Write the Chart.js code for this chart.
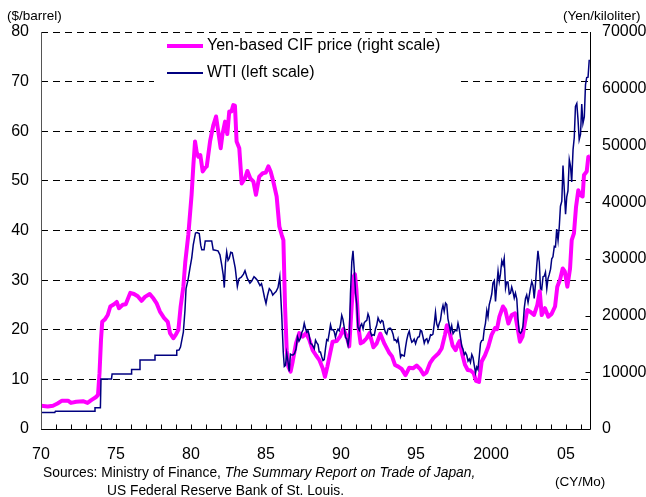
<!DOCTYPE html>
<html>
<head>
<meta charset="utf-8">
<script src="https://cdn.jsdelivr.net/npm/chart.js@4/dist/chart.umd.min.js"></script>
<style>
  html, body { margin: 0; padding: 0; background: #fff; }
  canvas { display: block; }
</style>
</head>
<body>
<canvas id="oil" width="646" height="497"></canvas>
<script>
// WTI, $/barrel (left scale)
var wtiYears = [1970.00,1970.92,1970.96,1973.55,1973.60,1973.96,1974.00,1974.70,1974.74,1976.00,1976.04,1976.55,1976.60,1977.55,1977.60,1979.00,1979.05,1979.20,1979.30,1979.49,1979.60,1979.67,1979.80,1979.93,
  1980.05,1980.15,1980.30,1980.40,1980.55,1980.65,1980.72,1980.87,1980.95,1981.38,1981.48,1981.80,1981.93,1982.05,1982.15,1982.22,1982.30,1982.38,1982.47,1982.55,1982.65,1982.75,1982.85,1982.95,
  1983.09,1983.20,1983.35,1983.50,1983.60,1983.75,1983.93,1984.05,1984.20,1984.30,1984.42,1984.50,1984.60,1984.70,1984.78,1984.90,1985.00,1985.10,1985.22,1985.35,1985.45,1985.57,1985.67,1985.80,1985.92,
  1986.05,1986.15,1986.22,1986.30,1986.38,1986.47,1986.55,1986.63,1986.72,1986.80,1986.90,1987.00,1987.10,1987.20,1987.30,1987.38,1987.47,1987.55,1987.63,1987.72,1987.80,1987.88,1987.97,
  1988.05,1988.13,1988.22,1988.30,1988.38,1988.47,1988.55,1988.63,1988.72,1988.80,1988.88,1988.97,1989.05,1989.13,1989.22,1989.30,1989.38,1989.47,1989.55,1989.63,1989.72,1989.80,1989.88,1989.97,
  1990.05,1990.13,1990.22,1990.30,1990.38,1990.47,1990.55,1990.63,1990.72,1990.80,1990.88,1990.97,1991.05,1991.13,1991.22,1991.30,1991.38,1991.47,1991.55,1991.63,1991.72,1991.80,1991.88,1991.97,
  1992.05,1992.13,1992.22,1992.30,1992.38,1992.47,1992.55,1992.63,1992.72,1992.80,1992.88,1992.97,1993.05,1993.13,1993.22,1993.30,1993.38,1993.47,1993.55,1993.63,1993.72,1993.80,1993.88,1993.97,
  1994.05,1994.13,1994.22,1994.30,1994.38,1994.47,1994.55,1994.63,1994.72,1994.80,1994.88,1994.97,1995.05,1995.13,1995.22,1995.30,1995.38,1995.47,1995.55,1995.63,1995.72,1995.80,1995.88,1995.97,
  1996.05,1996.13,1996.22,1996.30,1996.38,1996.47,1996.55,1996.63,1996.72,1996.80,1996.88,1996.97,1997.05,1997.13,1997.22,1997.30,1997.38,1997.47,1997.55,1997.63,1997.72,1997.80,1997.88,1997.97,
  1998.05,1998.13,1998.22,1998.30,1998.38,1998.47,1998.55,1998.63,1998.72,1998.80,1998.88,1998.97,1999.05,1999.13,1999.22,1999.30,1999.38,1999.47,1999.55,1999.63,1999.72,1999.80,1999.88,1999.97,
  2000.05,2000.13,2000.22,2000.30,2000.38,2000.47,2000.55,2000.63,2000.72,2000.80,2000.88,2000.97,2001.05,2001.13,2001.22,2001.30,2001.38,2001.47,2001.55,2001.63,2001.72,2001.80,2001.88,2001.97,
  2002.05,2002.13,2002.22,2002.30,2002.38,2002.47,2002.55,2002.63,2002.72,2002.80,2002.88,2002.97,2003.05,2003.13,2003.22,2003.30,2003.38,2003.47,2003.55,2003.63,2003.72,2003.80,2003.88,2003.97,
  2004.05,2004.13,2004.22,2004.30,2004.38,2004.47,2004.55,2004.63,2004.72,2004.80,2004.88,2004.97,2005.05,2005.13,2005.22,2005.30,2005.38,2005.47,2005.55,2005.63,2005.72,2005.80,2005.88,2005.97,
  2006.05,2006.13,2006.22,2006.30,2006.38,2006.47,2006.55]
var wtiValues = [3.35,3.35,3.56,3.56,4.3,4.3,10.1,10.1,11.1,11.1,12.0,12.0,13.9,13.9,14.85,14.85,15.85,15.9,16.5,19.5,24.0,28.3,30.0,32.4,
  34.5,37.1,39.5,39.6,39.4,37.0,36.1,36.1,37.9,37.9,36.1,35.9,35.1,33.0,31.0,28.5,33.5,35.7,34.0,34.4,35.6,35.5,34.0,32.4,
  28.7,30.3,30.6,31.2,31.9,30.4,29.4,29.8,30.7,30.4,30.0,29.5,28.9,29.3,28.3,26.5,25.3,26.9,28.3,27.8,27.0,27.4,27.7,28.5,30.7,
  22.9,15.5,12.6,12.8,15.3,13.5,11.6,15.1,14.9,14.9,15.2,16.1,18.6,17.7,18.3,19.4,20.0,21.3,20.3,19.5,19.8,18.9,17.2,
  17.1,16.7,16.2,17.9,17.4,17.0,15.5,15.5,14.5,13.8,14.0,16.3,18.0,17.8,19.4,21.0,20.0,20.0,19.6,18.5,19.6,20.1,19.8,21.1,
  22.9,22.1,20.4,18.4,18.2,16.9,18.6,27.2,33.7,35.9,32.3,27.3,25.2,20.5,19.9,20.8,21.2,20.2,21.4,21.7,21.9,23.2,22.5,19.5,
  18.8,19.0,18.9,20.2,20.9,22.4,21.8,21.4,21.9,21.7,20.3,19.4,19.1,20.1,20.3,20.3,19.9,19.1,17.9,18.0,17.5,18.2,16.7,14.5,
  15.0,14.8,14.7,16.4,17.9,19.1,19.7,18.4,17.5,17.7,18.1,17.2,18.0,18.5,18.6,19.9,19.7,18.5,17.3,18.0,18.2,17.4,18.0,19.0,
  18.9,19.1,21.3,23.5,21.2,20.4,21.3,21.9,23.9,24.9,23.7,25.4,25.1,22.2,20.9,19.7,20.8,19.2,19.6,19.9,19.8,21.3,20.2,18.3,
  16.7,16.1,15.0,15.4,14.9,13.7,14.1,13.4,15.0,14.4,12.9,11.3,12.5,12.0,14.7,17.3,17.8,17.9,20.1,21.3,23.9,22.6,25.0,26.1,
  27.2,29.4,29.9,25.7,28.8,31.8,29.7,31.2,33.9,33.1,34.4,28.4,29.6,29.6,27.2,27.4,28.6,27.6,26.4,27.4,26.2,22.2,19.6,19.3,
  19.7,20.7,24.4,26.3,27.0,25.5,26.9,28.4,29.7,28.9,26.3,29.4,32.9,35.9,33.6,28.3,28.1,30.7,30.8,31.6,28.3,30.3,31.1,32.2,
  34.3,34.7,36.8,36.7,40.3,38.0,40.7,44.9,45.9,53.1,48.5,43.3,46.8,48.0,54.3,53.0,49.8,56.3,58.7,65.0,65.6,62.4,58.3,59.4,
  65.5,61.6,62.9,69.4,70.8,70.9,74.4]

// Yen-based CIF price, yen/kiloliter (right scale)
var cifYears = [1970.00,1970.45,1970.80,1971.10,1971.40,1971.80,1972.00,1972.35,1972.80,1973.10,1973.35,1973.65,1973.80,1973.90,1974.00,1974.08,1974.25,1974.45,1974.62,1974.87,
  1975.05,1975.20,1975.45,1975.65,1975.95,1976.20,1976.45,1976.70,1976.93,1977.25,1977.50,1977.70,1977.93,1978.20,1978.45,1978.60,1978.82,1978.98,1979.16,1979.31,1979.49,1979.62,1979.82,
  1980.04,1980.16,1980.27,1980.38,1980.49,1980.62,1980.78,1980.93,1981.05,1981.27,1981.49,1981.67,1981.82,1981.98,1982.10,1982.27,1982.42,1982.55,1982.70,1982.82,1982.93,
  1983.04,1983.22,1983.38,1983.60,1983.76,1983.95,1984.16,1984.33,1984.55,1984.78,1984.98,1985.16,1985.31,1985.49,1985.71,1985.89,1986.05,1986.16,1986.27,1986.38,1986.49,1986.64,1986.78,
  1987.00,1987.22,1987.45,1987.67,1987.89,1988.11,1988.33,1988.55,1988.78,1988.93,1989.09,1989.27,1989.44,1989.71,1989.93,1990.16,1990.38,1990.55,1990.71,1990.85,1990.93,
  1991.03,1991.16,1991.31,1991.50,1991.71,1991.90,1992.16,1992.38,1992.62,1992.90,1993.20,1993.40,1993.60,1993.82,1994.04,1994.30,1994.55,1994.80,1995.04,1995.30,1995.50,1995.70,1995.93,
  1996.16,1996.49,1996.71,1996.93,1997.06,1997.25,1997.44,1997.64,1997.80,1997.90,1998.10,1998.27,1998.45,1998.65,1998.85,1999.00,1999.20,1999.38,1999.60,1999.82,
  2000.04,2000.27,2000.40,2000.56,2000.80,2000.95,2001.16,2001.38,2001.60,2001.76,2001.93,2002.10,2002.27,2002.42,2002.60,2002.87,2003.09,2003.25,2003.38,2003.60,2003.82,
  2004.04,2004.27,2004.42,2004.60,2004.78,2004.92,2005.09,2005.27,2005.38,2005.53,2005.67,2005.82,2005.93,2006.11,2006.20,2006.38,2006.49,2006.60]
var cifValues = [4100,3950,4100,4500,5000,5000,4600,4800,4900,4600,5100,5600,6000,9800,15700,18900,19300,20100,21600,22000,
  22400,21300,21900,22000,24000,23800,23400,22600,23300,23800,23000,22200,20700,19600,18900,16900,16000,16600,17500,21600,25100,29500,34200,
  41300,46600,50700,48800,48000,48300,45400,46000,46300,50700,53600,55100,52400,49500,52000,54200,52000,56000,56000,57100,57000,
  50700,49500,43300,44200,45500,44200,43600,41300,44500,45100,45200,46300,45400,43600,41000,35700,34200,33300,21600,13900,11000,10100,11900,
  15100,16900,16300,16900,15700,13900,13000,12200,10700,9200,11000,13300,15400,15500,16300,17600,16300,14600,21600,26900,27300,
  24500,18000,15100,15400,16000,16900,14400,15100,16800,15000,13500,12800,11300,11000,10600,9500,10800,10700,11200,10500,9600,10000,11600,
  12500,13300,14200,16600,18300,16900,14700,13900,15000,15500,13000,11300,10400,10300,9800,8500,8300,11900,13000,14500,
  16600,17800,17600,19800,21600,21000,18600,20100,20400,18000,15400,16300,18900,21000,20700,20100,21900,24300,20100,21300,19800,
  20300,21600,25100,26300,28300,27800,25100,28300,33300,34500,39200,42100,41300,41000,44800,45400,48000,48100]

// right axis tick labels
var rightTicks = [0, 10000, 20000, 30000, 40000, 50000, 60000, 70000]

var FONT = '"Liberation Sans", Arial, sans-serif'

function points(xs, ys) {
  return xs.map(function (x, i) { return { x: x, y: ys[i] } })
}

var decor = {
  id: 'decor',
  afterDraw: function (chart) {
    var ctx = chart.ctx
    var a = chart.chartArea
    var x = chart.scales.x
    var y2 = chart.scales.y2
    ctx.save()
    ctx.setLineDash([])
    ctx.lineWidth = 1

    // axis lines
    var L = Math.round(a.left) + 0.5, R = Math.round(a.right) + 0.5, B = Math.round(a.bottom) + 0.5
    ctx.strokeStyle = '#555'
    ctx.beginPath()
    ctx.moveTo(L, Math.round(a.top)); ctx.lineTo(L, B)
    ctx.stroke()
    ctx.strokeStyle = '#000'
    ctx.beginPath()
    ctx.moveTo(L, B); ctx.lineTo(R, B); ctx.lineTo(R, Math.round(a.top))
    ctx.stroke()

    // inward tick marks
    ctx.beginPath()
    for (var yr = 1971; yr <= 2006; yr++) {
      var px = Math.round(x.getPixelForValue(yr)) + 0.5
      ctx.moveTo(px, B); ctx.lineTo(px, B - 5)
    }
    for (var v = 10000; v < 70000; v += 10000) {
      var py = Math.round(y2.getPixelForValue(v)) + 0.5
      ctx.moveTo(R, py); ctx.lineTo(R - 5, py)
    }
    ctx.stroke()

    ctx.fillStyle = '#000'
    ctx.textBaseline = 'middle'
    ctx.textAlign = 'left'
    ctx.font = '16px ' + FONT
    rightTicks.forEach(function (t) {
      ctx.fillText(String(t), a.right + 12, y2.getPixelForValue(t))
    })

    // legend
    ctx.fillStyle = '#fff'
    ctx.fillRect(154, 35, 305, 53)
    ctx.lineCap = 'butt'
    ctx.strokeStyle = '#ff00ff'
    ctx.lineWidth = 4
    ctx.beginPath(); ctx.moveTo(167, 46); ctx.lineTo(203, 46); ctx.stroke()
    ctx.strokeStyle = '#000080'
    ctx.lineWidth = 2
    ctx.beginPath(); ctx.moveTo(167, 73); ctx.lineTo(203, 73); ctx.stroke()
    ctx.fillStyle = '#000'
    ctx.font = '16px ' + FONT
    ctx.fillText('Yen-based CIF price (right scale)', 207, 46)
    ctx.fillText('WTI (left scale)', 207, 73)

    // units and sources
    ctx.font = '13.5px ' + FONT
    ctx.fillText('($/barrel)', 7, 16.5)
    ctx.fillText('(Yen/kiloliter)', 563, 16.5)
    ctx.fillText('(CY/Mo)', 555, 482)
    ctx.font = '13.8px ' + FONT
    var s1 = 'Sources: Ministry of Finance, '
    ctx.fillText(s1, 43, 473)
    var w = ctx.measureText(s1).width
    ctx.font = 'italic 13.8px ' + FONT
    ctx.fillText('The Summary Report on Trade of Japan,', 43 + w, 473)
    ctx.font = '13.8px ' + FONT
    ctx.fillText('US Federal Reserve Bank of St. Louis.', 107, 491)
    ctx.restore()
  }
}

var ctx = document.getElementById('oil').getContext('2d')
var chart = new Chart(ctx, {
  type: 'line',
  data: {
    datasets: [
      {
        label: 'WTI (left scale)',
        data: points(wtiYears, wtiValues),
        yAxisID: 'y',
        borderColor: '#000080',
        borderWidth: 1.5,
        pointRadius: 0,
        tension: 0,
        order: 1
      },
      {
        label: 'Yen-based CIF price (right scale)',
        data: points(cifYears, cifValues),
        yAxisID: 'y2',
        borderColor: '#ff00ff',
        borderWidth: 4,
        borderJoinStyle: 'round',
        pointRadius: 0,
        tension: 0,
        order: 2
      }
    ]
  },
  options: {
    responsive: false,
    animation: false,
    layout: { padding: { top: 32, left: 0, right: 0, bottom: 0 } },
    plugins: { legend: { display: false }, tooltip: { enabled: false } },
    scales: {
      x: {
        type: 'linear',
        min: 1970,
        max: 2006.6,
        grid: { display: false },
        border: { display: false },
        afterFit: function (s) { s.height = 68 },
        ticks: {
          stepSize: 1,
          autoSkip: false,
          maxRotation: 0,
          padding: 8,
          color: '#000',
          font: { family: FONT, size: 16 },
          callback: function (v) {
            if (v % 5 !== 0) return ''
            if (v < 2000) return String(v - 1900)
            if (v === 2000) return '2000'
            return '0' + (v - 2000)
          }
        }
      },
      y: {
        position: 'left',
        min: 0,
        max: 80,
        afterFit: function (s) { s.width = 41 },
        grid: { color: '#000', lineWidth: 1, drawTicks: false },
        border: { display: false, dash: [7, 5] },
        ticks: {
          stepSize: 10,
          padding: 12,
          color: '#000',
          font: { family: FONT, size: 16 }
        }
      },
      y2: {
        position: 'right',
        min: 0,
        max: 70000,
        afterFit: function (s) { s.width = 56 },
        grid: { display: false },
        border: { display: false },
        ticks: { display: false, stepSize: 10000 }
      }
    }
  },
  plugins: [decor]
})
</script>
</body>
</html>
